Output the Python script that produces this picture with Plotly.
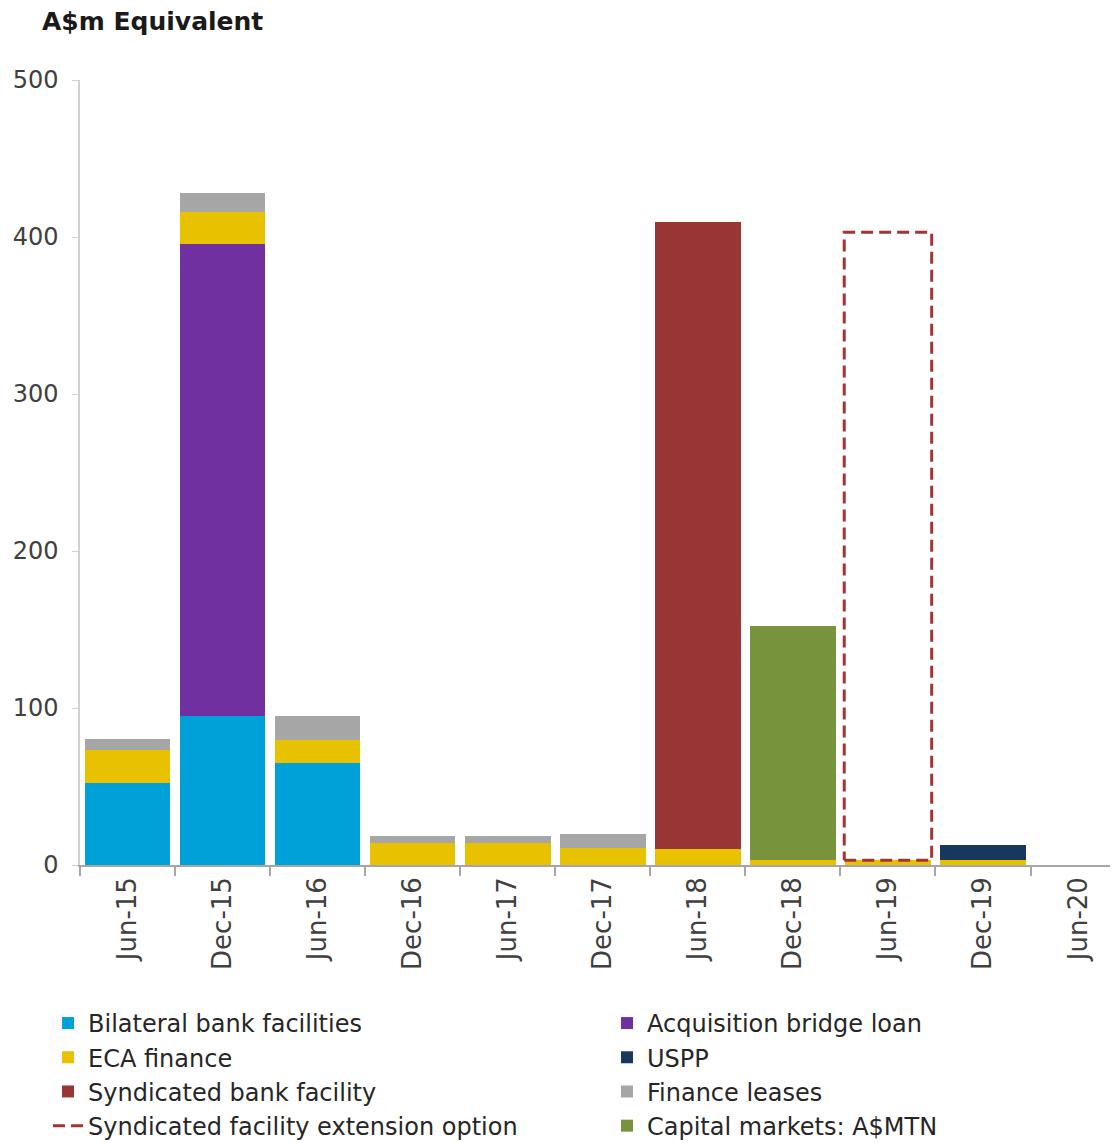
import plotly.graph_objects as go

categories = ["Jun-15", "Dec-15", "Jun-16", "Dec-16", "Jun-17", "Dec-17",
              "Jun-18", "Dec-18", "Jun-19", "Dec-19", "Jun-20"]
bilateral = [52, 95, 65, 0, 0, 0, 0, 0, 0, 0, 0]
bridge = [0, 300.5, 0, 0, 0, 0, 0, 0, 0, 0, 0]
eca = [21, 20.5, 14.5, 14, 14, 11, 10, 3, 3, 3, 0]
syndicated = [0, 0, 0, 0, 0, 0, 399.5, 0, 0, 0, 0]
capital = [0, 0, 0, 0, 0, 0, 0, 149, 0, 0, 0]
uspp = [0, 0, 0, 0, 0, 0, 0, 0, 0, 10, 0]
leases = [7, 12, 15.5, 4.5, 4.5, 9, 0, 0, 0, 0, 0]
extension = [0, 0, 0, 0, 0, 0, 0, 0, 400, 0, 0]
y_ticks = [0, 100, 200, 300, 400, 500]

FONT = "DejaVu Sans"
idx = list(range(len(categories)))

def nz(vals):
    return [v if v else None for v in vals]

fig = go.Figure()
# name, values, colour, legend column, rank within column
series = [
    ("Bilateral bank facilities", bilateral, "#00A0D8", "legend", 1),
    ("Acquisition bridge loan", bridge, "#7030A0", "legend2", 1),
    ("ECA finance", eca, "#E8C100", "legend", 2),
    ("Syndicated bank facility", syndicated, "#983636", "legend", 3),
    ("Capital markets: A$MTN", capital, "#77933C", "legend2", 4),
    ("USPP", uspp, "#17375E", "legend2", 2),
    ("Finance leases", leases, "#A6A6A6", "legend2", 3),
]
for name, vals, color, leg, rank in series:
    fig.add_trace(go.Bar(x=idx, y=nz(vals), name=name, marker_color=color,
                         marker_line_width=0, width=0.9, legend=leg, legendrank=rank))

# dashed outline for the extension option, stacked on top of ECA
for i, v in enumerate(extension):
    if v:
        base = bilateral[i] + bridge[i] + eca[i]
        hw = 0.46
        fig.add_trace(go.Scatter(
            x=[i - hw, i + hw, i + hw, i - hw, i - hw],
            y=[base, base, base + v, base + v, base],
            mode="lines", name="Syndicated facility extension option",
            line=dict(color="#A33434", width=3, dash="12px,6px"),
            legend="legend", legendrank=4, hoverinfo="skip"))

leg_common = dict(orientation="v", yanchor="top", xanchor="left", traceorder="normal",
                  font=dict(size=24, color="#262626", family=FONT), itemwidth=30,
                  bgcolor="rgba(0,0,0,0)")
fig.update_layout(
    barmode="stack",
    width=1110, height=1135,
    margin=dict(l=72, r=0, t=72, b=278, autoexpand=False),
    plot_bgcolor="white", paper_bgcolor="white",
    font=dict(family=FONT, color="#404040"),
    showlegend=True,
    legend=dict(x=-0.0308, y=-0.1732, **leg_common),
    legend2=dict(x=0.5077, y=-0.1732, **leg_common),
    annotations=[dict(text="<b>A$m Equivalent</b>", xref="paper", yref="paper",
                      x=-0.0385, y=1.0739, xanchor="left", yanchor="middle",
                      showarrow=False, font=dict(size=25, color="#1a1a1a", family=FONT))],
)
fig.update_xaxes(
    range=[-0.5, 10.42], tickmode="array", tickvals=idx, ticktext=categories,
    tickangle=-90, ticks="", showgrid=False, zeroline=False,
    showline=True, linecolor="#A6A6A6", linewidth=1.5,
    tickfont=dict(size=26, color="#404040"),
    minor=dict(ticks="outside", tick0=-0.5, dtick=1, ticklen=9,
               tickcolor="#A6A6A6", tickwidth=1.5, showgrid=False),
)
fig.update_yaxes(
    range=[0, 500], tickvals=y_ticks, showgrid=False, zeroline=False,
    showline=True, linecolor="#D0D0D0", linewidth=1.5,
    ticks="outside", ticklen=6, tickcolor="#D0D0D0", ticklabelstandoff=9,
    tickfont=dict(size=24, color="#404040"),
)
fig.write_html("out.html")
